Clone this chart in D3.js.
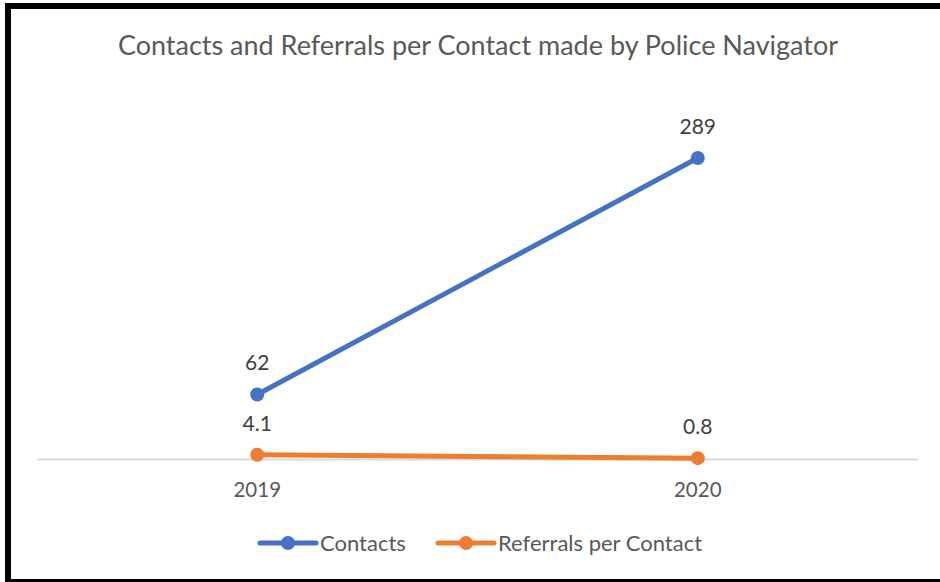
<!DOCTYPE html>
<html><head><meta charset="utf-8">
<script src="https://cdn.jsdelivr.net/npm/d3@7"></script>
<style>body{margin:0;background:#fff}svg{display:block}</style>
</head><body>
<svg id="c" width="940" height="582"></svg>
<script>
const categories = ["2019", "2020"];
const contacts = [62, 289];
const referrals = [4.1, 0.8];
const contactLabels = ["62", "289"];
const referralLabels = ["4.1", "0.8"];
const seriesNames = ["Contacts", "Referrals per Contact"];
const colors = ["#4472C4", "#ED7D31"];
const titleText = "Contacts and Referrals per Contact made by Police Navigator";

const svg = d3.select("#c");
const font = "Lato, 'Open Sans', sans-serif";

svg.append("rect").attr("x",0).attr("y",0).attr("width",940).attr("height",582).attr("fill","#fff");
// border (top, left, bottom)
svg.append("rect").attr("x",8).attr("y",6).attr("width",940).attr("height",576)
  .attr("fill","none").attr("stroke","#000").attr("stroke-width",6);

const x = d3.scaleBand().domain(categories).range([37, 918]).padding(0);
const y = d3.scaleLinear().domain([0, 350]).range([459, 94.5]);

svg.append("text").attr("x", 478).attr("y", 55).attr("text-anchor","middle")
  .attr("font-family", font).attr("font-size", 27).attr("fill","#595959").text(titleText);

// axis
const ax = svg.append("g").attr("transform","translate(0,459)")
  .call(d3.axisBottom(x).tickSize(0).tickPadding(23));
ax.select(".domain").attr("stroke","#d9d9d9").attr("stroke-width",2);
ax.selectAll("text").attr("font-family", font).attr("font-size", 20.5).attr("fill","#595959");

const cx = d => x(d) + x.bandwidth()/2;
const series = [
  {vals: contacts, labels: contactLabels, color: colors[0], dy: -24},
  {vals: referrals, labels: referralLabels, color: colors[1], dy: -24}
];
const line = d3.line().x((d,i)=>cx(categories[i])).y(d=>y(d));
series.forEach(s => {
  svg.append("path").datum(s.vals).attr("d", line).attr("fill","none")
    .attr("stroke", s.color).attr("stroke-width", 5).attr("stroke-linecap","round");
  svg.selectAll(null).data(s.vals).enter().append("circle")
    .attr("cx",(d,i)=>cx(categories[i])).attr("cy", d=>y(d)).attr("r",7).attr("fill", s.color);
  svg.selectAll(null).data(s.vals).enter().append("text")
    .attr("x",(d,i)=>cx(categories[i])).attr("y", d=>y(d)+s.dy)
    .attr("text-anchor","middle").attr("font-family", font).attr("font-size", 21).attr("fill","#404040")
    .text((d,i)=>s.labels[i]);
});

// legend
const legX = [260, 438];
seriesNames.forEach((n,i) => {
  const g = svg.append("g").attr("transform",`translate(${legX[i]},543)`);
  g.append("line").attr("x1",0).attr("x2",56).attr("stroke",colors[i]).attr("stroke-width",5).attr("stroke-linecap","round");
  g.append("circle").attr("cx",28).attr("r",7).attr("fill",colors[i]);
  g.append("text").attr("x",60).attr("y",8).attr("font-family", font).attr("font-size", 22).attr("fill","#595959").text(n);
});
</script>
</body></html>
